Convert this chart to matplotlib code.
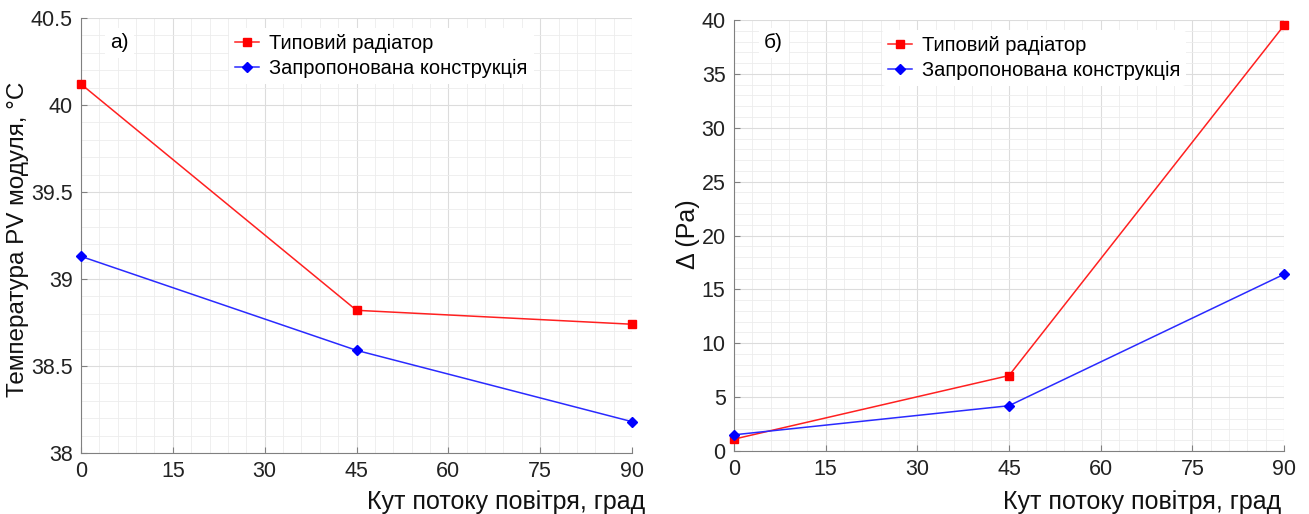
import matplotlib.pyplot as plt
from matplotlib.ticker import MultipleLocator

plt.rcParams['font.family'] = ['Liberation Sans', 'DejaVu Sans']

angles = [0, 45, 90]

# panel a) - PV module temperature
temp_typical = [40.12, 38.82, 38.74]
temp_proposed = [39.13, 38.59, 38.18]

# panel b) - pressure drop
dp_typical = [1.1, 7.0, 39.5]
dp_proposed = [1.5, 4.2, 16.4]

lbl_typical = 'Типовий радіатор'
lbl_proposed = 'Запропонована конструкція'
xlabel = 'Кут потоку повітря, град'

fig = plt.figure(figsize=(13.09, 5.14), dpi=100)
ax1 = fig.add_axes([0.0619, 0.1187, 0.4209, 0.8463])
ax2 = fig.add_axes([0.5607, 0.1226, 0.4202, 0.8384])


def style(ax, ymin, ymax, ymaj, ymin_step):
    ax.set_xlim(0, 90)
    ax.set_ylim(ymin, ymax)
    ax.xaxis.set_major_locator(MultipleLocator(15))
    ax.xaxis.set_minor_locator(MultipleLocator(3))
    ax.yaxis.set_major_locator(MultipleLocator(ymaj))
    ax.yaxis.set_minor_locator(MultipleLocator(ymin_step))
    ax.grid(which='major', color='#dcdcdc', lw=0.8)
    ax.grid(which='minor', color='#ececec', lw=0.6)
    ax.set_axisbelow(True)
    for s in ('top', 'right'):
        ax.spines[s].set_visible(False)
    for s in ('left', 'bottom'):
        ax.spines[s].set_color('#808080')
    ax.tick_params(which='major', labelsize=15.5, length=4, color='#808080',
                   direction='in', pad=6, labelcolor='#222222')
    ax.tick_params(which='minor', length=0)
    ax.set_xlabel(xlabel, fontsize=18, ha='right', color='#111111')


for ax, yt, yp in ((ax1, temp_typical, temp_proposed), (ax2, dp_typical, dp_proposed)):
    ax.plot(angles, yt, color='#ff2020', lw=1.1, marker='s', ms=6,
            mfc='red', mec='red', label=lbl_typical, clip_on=False, zorder=3)
    ax.plot(angles, yp, color='#2a2aff', lw=1.1, marker='D', ms=5.5,
            mfc='blue', mec='blue', label=lbl_proposed, clip_on=False, zorder=3)

style(ax1, 38, 40.5, 0.5, 0.1)
ax1.set_yticks([38, 38.5, 39, 39.5, 40, 40.5])
ax1.set_yticklabels(['38', '38.5', '39', '39.5', '40', '40.5'])
ax1.set_ylabel('Температура PV модуля, °C', fontsize=17.5, color='#111111')
ax1.yaxis.set_label_coords(-0.094, 0.492)
ax1.xaxis.set_label_coords(1.024, -0.085)

style(ax2, 0, 40, 5, 1)
ax2.set_ylabel('Δ (Pa)', fontsize=18, color='#111111')
ax2.yaxis.set_label_coords(-0.062, 0.502)
ax2.xaxis.set_label_coords(0.995, -0.091)

for ax, tag, tx, ty in ((ax1, 'а)', 0.053, 0.943), (ax2, 'б)', 0.055, 0.947)):
    ax.text(tx, ty, tag, transform=ax.transAxes, fontsize=15, va='center',
            bbox=dict(facecolor='white', edgecolor='none', pad=4))
    leg = ax.legend(loc='upper left', bbox_to_anchor=(0.25, 1.0), frameon=True,
                    fontsize=14.5, handlelength=1.2, handletextpad=0.5,
                    labelspacing=0.3, borderpad=0.3)
    leg.get_frame().set_edgecolor('none')
    leg.get_frame().set_facecolor('white')
    leg.get_frame().set_alpha(1)

fig.savefig('out.png', dpi=100)
